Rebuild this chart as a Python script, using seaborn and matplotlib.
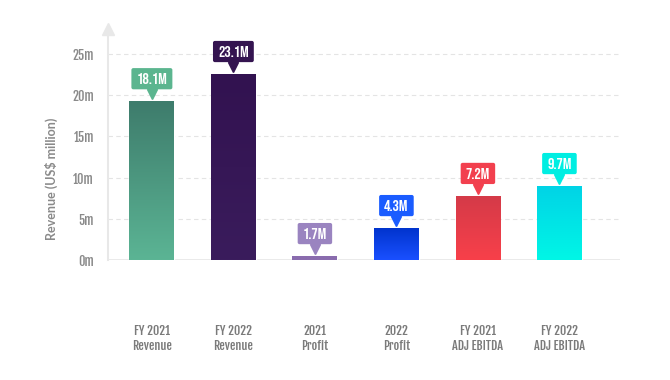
import numpy as np
import matplotlib
matplotlib.use("Agg")
import matplotlib.pyplot as plt
import matplotlib.transforms as mtrans
from matplotlib.colors import LinearSegmentedColormap
import seaborn as sns

# data
categories = ["FY 2021\nRevenue", "FY 2022\nRevenue", "2021\nProfit",
              "2022\nProfit", "FY 2021\nADJ EBITDA", "FY 2022\nADJ EBITDA"]
bar_values = [19.3, 22.6, 0.5, 3.9, 7.8, 9.0]
bar_labels = ["18.1M", "23.1M", "1.7M", "4.3M", "7.2M", "9.7M"]
y_ticks = [0, 5, 10, 15, 20, 25]
y_tick_labels = ["0m", "5m", "10m", "15m", "20m", "25m"]

# (top colour, bottom colour) of each bar, and the callout colour
bar_top = ["#3e7c6c", "#321250", "#8a6cae", "#0033cc", "#d43a48", "#00d3e6"]
bar_bottom = ["#5bb494", "#3a1c5c", "#8a6cae", "#1a50ff", "#f8404a", "#00f6e6"]
label_colors = ["#5bb58f", "#341450", "#9a84c0", "#1a5cff", "#f2404e", "#00eee2"]

sns.set_theme(style="white")
plt.rcParams["font.family"] = ["Fjalla One", "DejaVu Sans"]

fig = plt.figure(figsize=(6.7, 3.8), dpi=100)
ax = fig.add_axes([0.161, 0.316, 0.764, 0.607])

sns.barplot(x=categories, y=bar_values, ax=ax, width=0.55,
            palette=bar_top, hue=categories, legend=False, saturation=1)

# vertical gradient inside each bar
for patch, c_top, c_bot in zip(ax.patches, bar_top, bar_bottom):
    x0, y0 = patch.get_x(), patch.get_y()
    w, h = patch.get_width(), patch.get_height()
    cmap = LinearSegmentedColormap.from_list("g", [c_bot, c_top])
    grad = np.linspace(0, 1, 100).reshape(-1, 1)
    im = ax.imshow(grad, cmap=cmap, aspect="auto", origin="lower",
                   extent=(x0, x0 + w, y0, y0 + h), zorder=3)
    im.set_clip_path(patch)
    patch.set_zorder(2)
ax.set_ylim(0, 28)
ax.set_xlim(-0.54, 5.74)

# grid
for t in y_ticks[1:]:
    ax.axhline(t, color="#e4e4e4", lw=0.8, ls=(0, (4, 3)), zorder=0)
ax.axhline(0, color="#e6e6e6", lw=1.2, zorder=1)

for s in ["top", "right", "bottom"]:
    ax.spines[s].set_visible(False)
ax.spines["left"].set_color("#e8e8e8")
ax.spines["left"].set_linewidth(1.5)
ax.plot([-0.54], [28], marker="^", ms=9, color="#e8e8e8", clip_on=False,
        zorder=5)

ax.set_yticks(y_ticks)
ax.set_yticklabels(y_tick_labels, color="#8a8a8a", fontsize=9)
ax.tick_params(axis="y", length=0, pad=10)
ax.tick_params(axis="x", length=0, pad=47)
ax.set_xticks(range(len(categories)))
ax.set_xticklabels(categories, color="#7a7a7a", fontsize=8.8,
                   linespacing=1.2)

ax.set_ylabel("Revenue (US$ million)", color="#8a8a8a", fontsize=9,
              fontweight="bold", family=["Lato", "DejaVu Sans"])
ax.yaxis.set_label_coords(-0.098, 0.35)

# callouts above bars
for i, (v, lab, col) in enumerate(zip(bar_values, bar_labels, label_colors)):
    tri = mtrans.offset_copy(ax.transData, fig=fig, x=0, y=5, units="points")
    ax.plot([i], [v], marker="v", ms=6.5, color=col, transform=tri,
            clip_on=False, zorder=6)
    ax.annotate(lab, xy=(i, v), xytext=(0, 16), textcoords="offset points",
                ha="center", va="center", color="white", fontsize=11.5,
                family=["Bebas Neue", "DejaVu Sans"], zorder=7,
                bbox=dict(boxstyle="round,pad=0.32,rounding_size=0.12",
                          fc=col, ec="none"))

fig.savefig("out.png", dpi=100)
